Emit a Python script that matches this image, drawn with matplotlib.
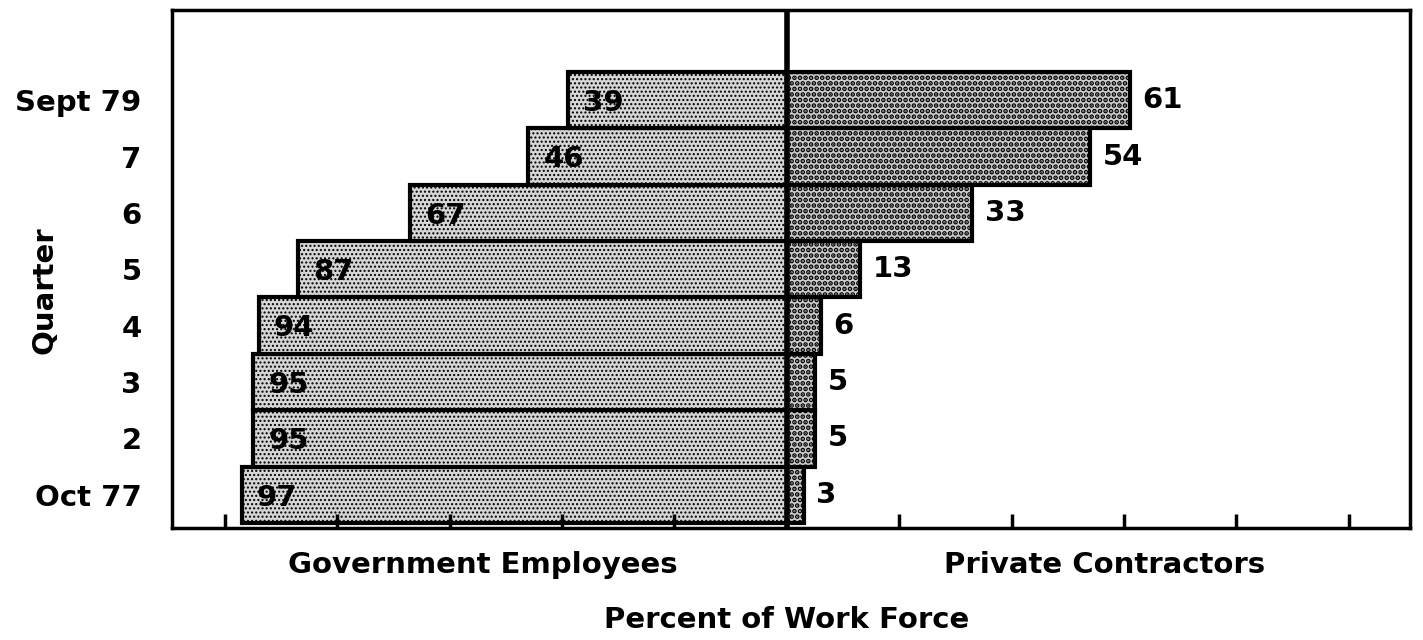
import matplotlib
matplotlib.use("Agg")
import matplotlib.pyplot as plt

quarters = ["Oct 77", "2", "3", "4", "5", "6", "7", "Sept 79"]
government = [97, 95, 95, 94, 87, 67, 46, 39]
private = [3, 5, 5, 6, 13, 33, 54, 61]
tick_values = [-100, -80, -60, -40, -20, 20, 40, 60, 80, 100]

plt.rcParams['font.family'] = ['DejaVu Sans']
plt.rcParams['font.weight'] = 'bold'

FS = 21

fig = plt.figure(figsize=(14.23, 6.4), dpi=100)
ax = fig.add_axes([172/1423, 112/640, (1410-172)/1423, (528-10)/640])
ax.set_axisbelow(False)

y = list(range(len(quarters)))
neg = [-g for g in government]

plt.rcParams['hatch.linewidth'] = 1.0
plt.rcParams['hatch.color'] = '#444444'
left_bars = ax.barh(y, neg, height=1.0, left=0, facecolor='#d6d6d6', edgecolor='black',
                    linewidth=3, hatch='....', zorder=2)
plt.rcParams['hatch.linewidth'] = 2.4
plt.rcParams['hatch.color'] = 'black'
right_bars = ax.barh(y, private, height=1.0, left=0, facecolor='#cccccc', edgecolor='black',
                     linewidth=3, hatch='...', zorder=2)
for b in left_bars:
    if hasattr(b, 'set_hatch_linewidth'):
        b.set_hatch_linewidth(1.0)
for b in right_bars:
    if hasattr(b, 'set_hatch_linewidth'):
        b.set_hatch_linewidth(2.4)

for yi, g in zip(y, government):
    ax.annotate(str(g), xy=(-g, yi), xytext=(11, -2), textcoords='offset points',
                ha='left', va='center', fontsize=FS, fontweight='bold', zorder=4)
for yi, p in zip(y, private):
    ax.annotate(str(p), xy=(p, yi), xytext=(9, 0), textcoords='offset points',
                ha='left', va='center', fontsize=FS, fontweight='bold', zorder=4)

ax.axvline(0, color='black', linewidth=4, zorder=3)

ax.set_xlim(-109.4, 110.9)
ax.set_ylim(-0.59, 8.6)
ax.set_yticks(y)
ax.set_yticklabels(quarters, fontsize=FS, fontweight='bold')
ax.tick_params(axis='y', length=0, pad=22)
ax.set_xticks(tick_values)
ax.set_xticklabels([])
ax.tick_params(axis='x', direction='in', length=10, width=2.5)
for s in ax.spines.values():
    s.set_linewidth(2.5)

fig.text(45/1423, 1 - 290/640, "Quarter", rotation=90, ha='center', va='center',
         fontsize=FS, fontweight='bold')
fig.text(483/1423, 1 - 565/640, "Government Employees", ha='center', va='center',
         fontsize=FS, fontweight='bold')
fig.text(1105/1423, 1 - 565/640, "Private Contractors", ha='center', va='center',
         fontsize=FS, fontweight='bold')
fig.text(787/1423, 1 - 620/640, "Percent of Work Force", ha='center', va='center',
         fontsize=FS, fontweight='bold')

fig.savefig("out.png", dpi=100)
